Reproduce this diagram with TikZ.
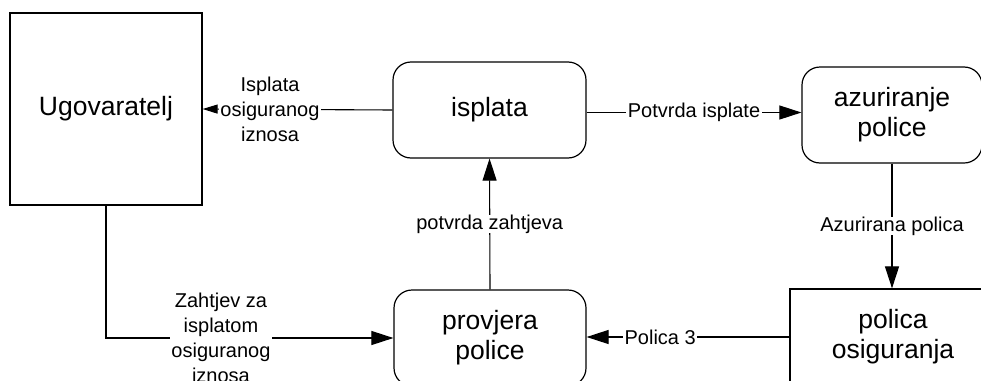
\documentclass[tikz,border=0pt]{standalone}
\usepackage{fontspec}
\setmainfont{Liberation Sans}
\usetikzlibrary{arrows.meta}
\begin{document}
\begin{tikzpicture}[x=1pt,y=-1pt,
  proc/.style={draw, rounded corners=18pt, line width=1.2pt, align=center,
    font=\fontsize{26.5}{30}\selectfont, minimum height=96pt, inner sep=0pt},
  ent/.style={draw, line width=1.2pt, align=center,
    font=\fontsize{26.5}{30}\selectfont, inner sep=0pt},
  lbl/.style={fill=white, align=center, font=\fontsize{20}{25}\selectfont,
    inner xsep=1.5pt, inner ysep=0pt},
  arr/.style={line width=1.1pt, -{Triangle[length=22pt,width=14pt]}},
  arrsmall/.style={line width=1.1pt, -{Triangle[length=15pt,width=9pt]}}]
\useasboundingbox (0,0) rectangle (981,380);
\clip (0,0) rectangle (981,380);
\fill[white] (0,0) rectangle (981,380);

\node[ent, minimum width=192pt, minimum height=192pt] (ug) at (106,109) {Ugovaratelj};
\node[proc, minimum width=193pt] (isp) at (489.5,110) {isplata};
\node[proc, minimum width=180pt] (azu) at (892,115) {azuriranje\\police};
\node[proc, minimum width=192pt] (prov) at (490,338) {provjera\\police};
\node[ent, minimum width=206pt, minimum height=96pt] (pol) at (893,337) {polica\\osiguranja};

\draw[arrsmall] (isp.west) -- node[lbl, pos=0.645]{Isplata\\osiguranog\\iznosa} (ug.east);
\draw[arr] ([yshift=-2.5pt]isp.east) -- node[lbl]{Potvrda isplate} ([yshift=-2.5pt]isp.east -| azu.west);
\draw[arr] (azu.south) -- node[lbl]{Azurirana polica} (azu.south |- pol.north);
\draw[arr] (pol.west) -- node[lbl, pos=0.637]{Polica 3} (pol.west -| prov.east);
\draw[arr] (prov.north) -- node[lbl]{potvrda zahtjeva} (isp.south);
\draw[arr] (ug.south) |- node[lbl, pos=0.70]{Zahtjev za\\isplatom\\osiguranog\\iznosa} (prov.west);
\end{tikzpicture}
\end{document}
